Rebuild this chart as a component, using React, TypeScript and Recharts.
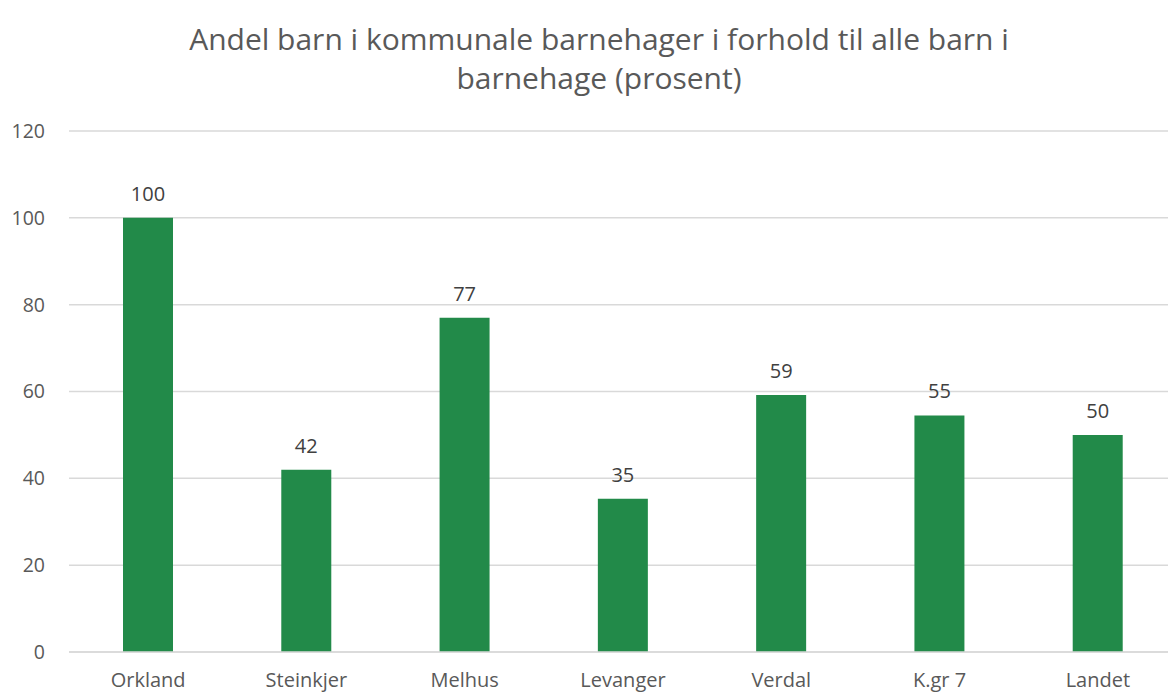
import React from "react";
import { BarChart, Bar, XAxis, YAxis, CartesianGrid, LabelList } from "recharts";

const categories = ["Orkland", "Steinkjer", "Melhus", "Levanger", "Verdal", "K.gr 7", "Landet"];
const shares = [100, 42, 77, 35.3, 59.2, 54.5, 50];
const yTicks = [0, 20, 40, 60, 80, 100, 120];
const titleLines = ["Andel barn i kommunale barnehager i forhold til alle barn i", "barnehage (prosent)"];

const data = categories.map((name, i) => ({ name, value: shares[i] }));

const FONT = "'Open Sans', 'Noto Sans', sans-serif";
const TEXT = "#595959";

export default function App() {
  return (
    <div style={{ position: "absolute", left: 0, top: 0, width: 1168, height: 693, overflow: "hidden", background: "#fff", fontFamily: FONT }}>
      <div style={{ position: "absolute", left: 0, top: 19, width: 1198, textAlign: "center", color: TEXT, fontSize: 30, lineHeight: "39px" }}>
        {titleLines.map((l) => (
          <div key={l}>{l}</div>
        ))}
      </div>
      <BarChart width={1177} height={693} data={data} margin={{ top: 131, right: 0, bottom: 0, left: 0 }}>
        <CartesianGrid vertical={false} stroke="#d9d9d9" strokeWidth={1.5} />
        <XAxis
          dataKey="name"
          height={41}
          tickLine={false}
          axisLine={{ stroke: "#d9d9d9", strokeWidth: 1.5 }}
          tickSize={0}
          tickMargin={21}
          tick={{ fill: TEXT, fontSize: 20, fontFamily: FONT }}
          interval={0}
        />
        <YAxis
          width={69}
          domain={[0, 120]}
          ticks={yTicks}
          axisLine={false}
          tickLine={false}
          tickSize={0}
          tickMargin={24}
          tick={{ fill: TEXT, fontSize: 19.5, fontFamily: FONT }}
        />
        <Bar dataKey="value" fill="#228A49" barSize={50} isAnimationActive={false}>
          <LabelList
            dataKey="value"
            position="top"
            offset={17}
            formatter={(v: number) => Math.round(v)}
            style={{ fill: "#404040", fontSize: 20, fontFamily: FONT }}
          />
        </Bar>
      </BarChart>
    </div>
  );
}
